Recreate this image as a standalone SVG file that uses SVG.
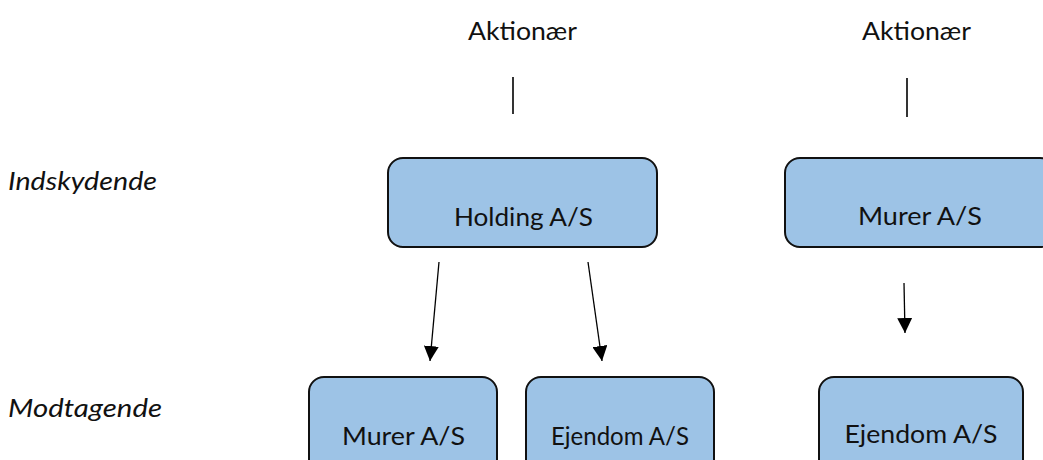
<svg xmlns="http://www.w3.org/2000/svg" width="1043" height="460" viewBox="0 0 1043 460">
  <style>
    .box { fill: #9DC3E6; stroke: #111; stroke-width: 2; }
    .lbl { font-family: Lato, "Noto Sans", sans-serif; font-size: 25px; fill: #111; text-anchor: middle; }
    .side { font-family: Lato, "Noto Sans", sans-serif; font-size: 25px; font-style: italic; fill: #111; }
    .edge { stroke: #000; stroke-width: 1.3; fill: none; }
    .tick { stroke: #000; stroke-width: 1.6; }
  </style>
  <defs>
    <marker id="arrow" viewBox="0 0 10 10" refX="10" refY="5" markerWidth="15" markerHeight="15" markerUnits="userSpaceOnUse" orient="auto">
      <path d="M0,0 L10,5 L0,10 Z" fill="#000"/>
    </marker>
  </defs>
  <rect width="1043" height="460" fill="#fff"/>

  <!-- row captions -->
  <text class="side" x="8" y="190" textLength="149" lengthAdjust="spacingAndGlyphs">Indskydende</text>
  <text class="side" x="8" y="417" textLength="154" lengthAdjust="spacingAndGlyphs">Modtagende</text>

  <!-- shareholders -->
  <g id="aktionaer-1">
    <text class="lbl" x="522.5" y="40" textLength="109" lengthAdjust="spacingAndGlyphs">Aktionær</text>
  </g>
  <g id="aktionaer-2">
    <text class="lbl" x="916.5" y="40" textLength="109" lengthAdjust="spacingAndGlyphs">Aktionær</text>
  </g>

  <!-- contributing companies -->
  <g id="holding">
    <rect class="box" x="388" y="158" width="269" height="89" rx="15"/>
    <text class="lbl" x="523.5" y="226" textLength="139" lengthAdjust="spacingAndGlyphs">Holding A/S</text>
  </g>
  <g id="murer-top">
    <rect class="box" x="785" y="158" width="270" height="89" rx="15"/>
    <text class="lbl" x="920" y="225" textLength="124" lengthAdjust="spacingAndGlyphs">Murer A/S</text>
  </g>

  <!-- receiving companies -->
  <g id="murer-bottom">
    <rect class="box" x="309" y="377" width="188" height="100" rx="15"/>
    <text class="lbl" x="403.5" y="445" textLength="123" lengthAdjust="spacingAndGlyphs">Murer A/S</text>
  </g>
  <g id="ejendom-1">
    <rect class="box" x="526" y="377" width="188" height="100" rx="15"/>
    <text class="lbl" x="620" y="445" textLength="138" lengthAdjust="spacingAndGlyphs">Ejendom A/S</text>
  </g>
  <g id="ejendom-2">
    <rect class="box" x="819" y="377" width="204" height="100" rx="15"/>
    <text class="lbl" x="921" y="443" textLength="153" lengthAdjust="spacingAndGlyphs">Ejendom A/S</text>
  </g>

  <!-- connectors -->
  <g id="connectors">
    <line class="tick" x1="513" y1="77" x2="513" y2="114"/>
    <line class="tick" x1="907" y1="78" x2="907" y2="117"/>
    <line class="edge" x1="439" y1="262" x2="430" y2="361" marker-end="url(#arrow)"/>
    <line class="edge" x1="588" y1="262" x2="602" y2="361" marker-end="url(#arrow)"/>
    <line class="edge" x1="904" y1="283" x2="905" y2="333" marker-end="url(#arrow)"/>
  </g>
</svg>
